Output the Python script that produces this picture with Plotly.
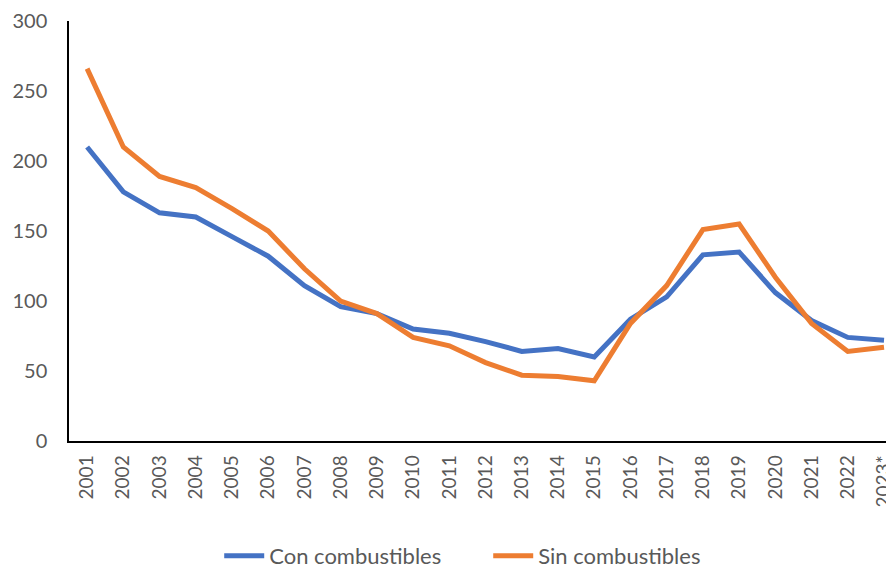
import plotly.graph_objects as go

years = ["2001", "2002", "2003", "2004", "2005", "2006", "2007", "2008",
         "2009", "2010", "2011", "2012", "2013", "2014", "2015", "2016",
         "2017", "2018", "2019", "2020", "2021", "2022", "2023*"]

con_combustibles = [210, 178, 163, 160, 146, 132, 111, 96, 91, 80, 77, 71,
                    64, 66, 60, 87, 103, 133, 135, 106, 86, 74, 72]
sin_combustibles = [266, 210, 189, 181, 166, 150, 123, 100, 91, 74, 68, 56,
                    47, 46, 43, 84, 111, 151, 155, 117, 84, 64, 67]

FONT = "Lato"
GREY = "#595959"

fig = go.Figure()
fig.add_trace(go.Scatter(x=years, y=con_combustibles, name="Con combustibles",
                         mode="lines", line=dict(color="#4472C4", width=5)))
fig.add_trace(go.Scatter(x=years, y=sin_combustibles, name="Sin combustibles",
                         mode="lines", line=dict(color="#ED7D31", width=5)))

# page body has an 8px margin, so the figure is sized to end at the window edge
fig.update_layout(
    width=886, height=562,
    margin=dict(l=61, r=0, t=12, b=129),
    plot_bgcolor="white", paper_bgcolor="white",
    font=dict(family=FONT, size=20, color=GREY),
    showlegend=True,
    legend=dict(orientation="h", xref="container", yref="container",
                x=0.542, xanchor="center", y=0.025, yanchor="middle",
                font=dict(size=22, color=GREY), itemwidth=40,
                entrywidth=214, traceorder="normal"),
)
fig.update_xaxes(
    type="category", range=[-0.5, 22.165],
    tickangle=-90, tickfont=dict(size=19, color=GREY), ticklabelstandoff=5,
    showline=True, linecolor="black", linewidth=1.5,
    showgrid=False, ticks="", zeroline=False,
)
fig.update_yaxes(
    range=[0, 300], tickvals=[0, 50, 100, 150, 200, 250, 300],
    tickfont=dict(size=20, color=GREY), ticklabelstandoff=16,
    ticklabeloverflow="allow",
    showline=True, linecolor="black", linewidth=1.5,
    showgrid=False, ticks="", zeroline=False,
)

fig.write_html("out.html")
